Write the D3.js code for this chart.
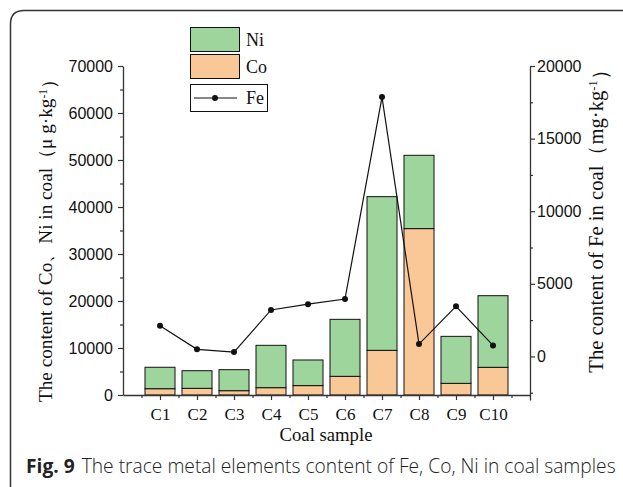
<!DOCTYPE html>
<html><head><meta charset="utf-8">
<script src="https://cdn.jsdelivr.net/npm/d3@7"></script>
<style>body{margin:0;background:#fff}svg{display:block}</style>
</head><body>
<svg id="c" width="623" height="487"></svg>
<script>
const categories = ["C1","C2","C3","C4","C5","C6","C7","C8","C9","C10"];
const coValues = [1340,1420,920,1560,2000,3970,9500,35400,2480,5890];
const niValues = [4560,3750,4470,9010,5450,12130,32700,15600,10000,15240];
const feValues = [2110,490,300,3200,3600,3950,17860,850,3450,760];
const leftTicks = [0,10000,20000,30000,40000,50000,60000,70000];
const rightTicks = [0,5000,10000,15000,20000];
const seriesNames = ["Ni","Co","Fe"];

const svg = d3.select("#c");
const colNi = "#9dd59c", colCo = "#fac896", ink = "#111";

svg.append("path").attr("d","M10.5,487 L10.5,24 Q10.5,10.5 24,10.5 L623,10.5")
  .attr("fill","none").attr("stroke","#333").attr("stroke-width",1.5);

const x = d3.scaleLinear().domain([0,11]).range([123,530]);
const yL = d3.scaleLinear().domain([0,70000]).range([395,66]);
const yR = d3.scaleLinear().domain([-3000,20000]).range([400,66]);
const bw = 30;

const data = categories.map((c,i)=>({c,i,co:coValues[i],ni:niValues[i],fe:feValues[i]}));
const stack = d3.stack().keys(["co","ni"])(data);
const cols = {co:colCo, ni:colNi};
stack.forEach(layer=>{
  svg.append("g").selectAll("rect").data(layer).join("rect")
    .attr("x",d=>x(d.data.i+1)-bw/2).attr("width",bw)
    .attr("y",d=>yL(d[1])).attr("height",d=>yL(d[0])-yL(d[1]))
    .attr("fill",cols[layer.key]).attr("stroke",ink).attr("stroke-width",1);
});

const line = d3.line().x(d=>x(d.i+1)).y(d=>yR(d.fe));
svg.append("path").datum(data).attr("d",line).attr("fill","none").attr("stroke",ink).attr("stroke-width",1.2);
svg.append("g").selectAll("circle").data(data).join("circle")
  .attr("cx",d=>x(d.i+1)).attr("cy",d=>yR(d.fe)).attr("r",3).attr("fill",ink);

const tickFont = "'Liberation Sans', Arial, sans-serif";
const serif = "'Liberation Serif','Times New Roman',serif";
function styleAxis(g){
  g.selectAll("path.domain").attr("stroke","#333").attr("stroke-width",1.3);
  g.selectAll(".tick line").attr("stroke","#333").attr("stroke-width",1.2);
  g.selectAll("text").attr("font-family",tickFont).attr("font-size",16).attr("fill","#111");
}
const gL = svg.append("g").attr("transform","translate(123,0)")
  .call(d3.axisLeft(yL).tickValues(leftTicks).tickSize(5).tickPadding(5).tickSizeOuter(0).tickFormat(d3.format("d")));
styleAxis(gL);
svg.append("g").attr("transform","translate(123,0)")
  .call(d3.axisLeft(yL).tickValues(d3.range(5000,70000,10000)).tickSize(3).tickFormat(""))
  .call(g=>{g.select(".domain").remove();g.selectAll("line").attr("stroke","#333").attr("stroke-width",1.2);});
const gR = svg.append("g").attr("transform","translate(530,0)")
  .call(d3.axisRight(yR).tickValues(rightTicks).tickSize(5).tickPadding(2).tickSizeOuter(0).tickFormat(d3.format("d")));
styleAxis(gR);
svg.append("g").attr("transform","translate(530,0)")
  .call(d3.axisRight(yR).tickValues(d3.range(-2500,20000,5000)).tickSize(3).tickFormat(""))
  .call(g=>{g.select(".domain").remove();g.selectAll("line").attr("stroke","#333").attr("stroke-width",1.2);});
const gB = svg.append("g").attr("transform","translate(0,395)")
  .call(d3.axisBottom(x).tickValues(d3.range(1,11)).tickSize(5).tickPadding(8).tickSizeOuter(0).tickFormat(d=>categories[d-1]));
styleAxis(gB);
gB.selectAll("text").attr("font-family",serif).attr("font-size",17);
svg.append("g").attr("transform","translate(0,395)")
  .call(d3.axisBottom(x).tickValues(d3.range(0.5,11,1)).tickSize(3).tickFormat(""))
  .call(g=>{g.select(".domain").remove();g.selectAll("line").attr("stroke","#333").attr("stroke-width",1.2);});

function fit(sel, target, base){
  const w = sel.node().getComputedTextLength();
  sel.attr("font-size", base*target/w);
}
const xt = svg.append("text").attr("x",326).attr("y",441).attr("text-anchor","middle")
  .attr("font-family",serif).attr("font-size",18).attr("fill","#111").text("Coal sample");
fit(xt, 93, 18);
function vtitle(tx,ty,main,len){
  const t = svg.append("text").attr("transform",`translate(${tx},${ty}) rotate(-90)`).attr("text-anchor","middle")
    .attr("font-family",serif).attr("font-size",18).attr("fill","#111");
  t.append("tspan").text(main);
  t.append("tspan").attr("font-size","0.6em").attr("dy","-0.45em").text("-1");
  t.append("tspan").attr("dy","0.45em").text("）");
  fit(t,len,18);
}
vtitle(52,236,"The content of Co、Ni in coal（μ g·kg",333);
vtitle(603,216,"The content of Fe in coal（mg·kg",313);

const lg = svg.append("g");
lg.append("rect").attr("x",190.5).attr("y",27.5).attr("width",49).attr("height",24).attr("fill",colNi).attr("stroke",ink);
lg.append("rect").attr("x",190.5).attr("y",54.5).attr("width",49).attr("height",24).attr("fill",colCo).attr("stroke",ink);
lg.append("rect").attr("x",190.5).attr("y",84.5).attr("width",77).attr("height",27).attr("fill","#fff").attr("stroke",ink);
lg.append("line").attr("x1",194).attr("x2",237).attr("y1",98).attr("y2",98).attr("stroke",ink).attr("stroke-width",1.2);
lg.append("circle").attr("cx",215).attr("cy",98).attr("r",3).attr("fill",ink);
[[seriesNames[0],40],[seriesNames[1],67],[seriesNames[2],98]].forEach(([t,yy])=>{
  lg.append("text").attr("x",246).attr("y",yy).attr("dy","0.35em").attr("font-family",serif)
    .attr("font-size",18).attr("fill","#111").text(t);
});

const cap = svg.append("text").attr("x",26).attr("y",473).attr("font-family","'Open Sans','Noto Sans',sans-serif")
  .attr("font-size",17).attr("fill","#222");
cap.append("tspan").attr("font-weight","bold").text("Fig. 9");
cap.append("tspan").attr("dx",7).attr("font-weight",300).text("The trace metal elements content of Fe, Co, Ni in coal samples");
fit(cap,583,17);
</script>
</body></html>
